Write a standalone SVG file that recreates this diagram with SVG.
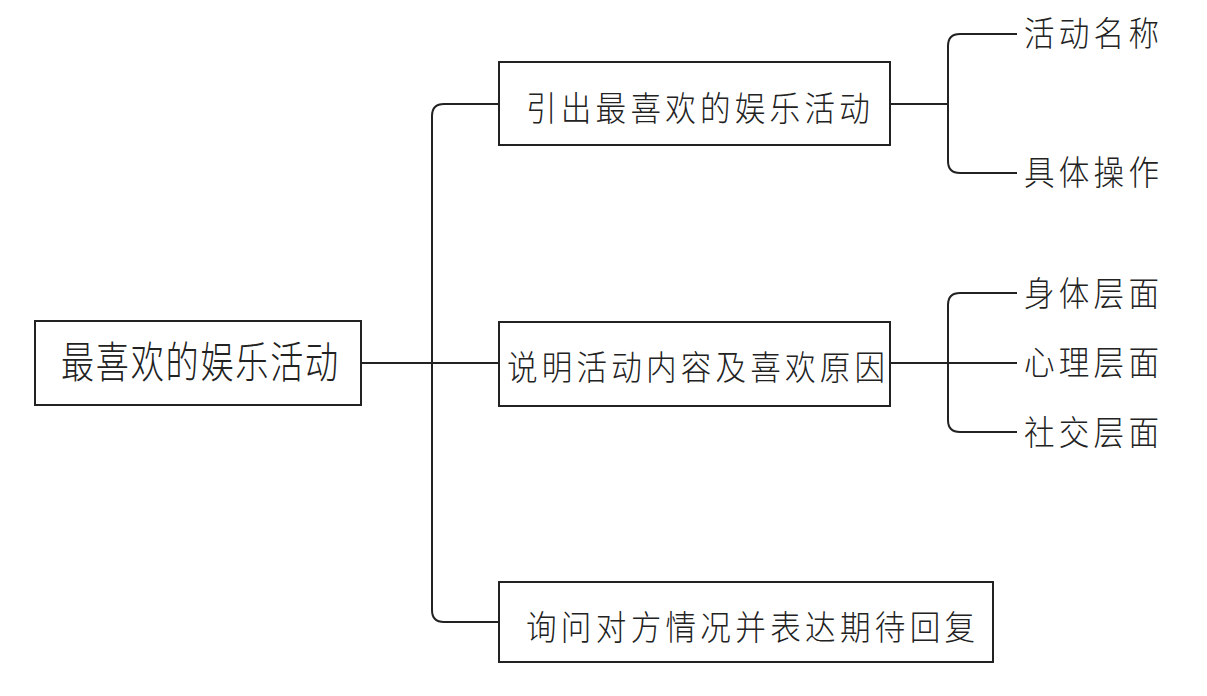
<svg xmlns="http://www.w3.org/2000/svg" width="1207" height="696" viewBox="0 0 1207 696">
<style>
.box{fill:#fff;stroke:#222;stroke-width:2}
.t{font-family:"Noto Sans CJK SC","Noto Sans CJK JP",sans-serif;font-size:34px;font-weight:300;fill:#222}
.tm{font-size:43px}
.c{fill:none;stroke:#222;stroke-width:2}
</style>
<rect width="1207" height="696" fill="#fff"/>
<g id="connectors">
<path class="c" d="M361,363 H499"/>
<path class="c" d="M499,104 H444 Q432,104 432,116 V610 Q432,622 444,622 H499"/>
<path class="c" d="M890,104 H948"/>
<path class="c" d="M1017,34 H960 Q948,34 948,46 V161 Q948,173 960,173 H1017"/>
<path class="c" d="M890,363 H1017"/>
<path class="c" d="M1017,293 H960 Q948,293 948,305 V420 Q948,432 960,432 H1017"/>
</g>
<g id="root">
<rect class="box" x="35" y="321" width="326" height="84"/>
<text class="t tm" transform="translate(61,378) scale(0.77,1)" textLength="360" lengthAdjust="spacing">最喜欢的娱乐活动</text>
</g>
<g id="n1">
<rect class="box" x="499" y="62" width="391" height="83"/>
<text class="t" transform="translate(526,121) scale(0.9,1)" textLength="382" lengthAdjust="spacing">引出最喜欢的娱乐活动</text>
</g>
<g id="n2">
<rect class="box" x="499" y="322" width="391" height="84"/>
<text class="t" transform="translate(507,380) scale(0.9,1)" textLength="420" lengthAdjust="spacing">说明活动内容及喜欢原因</text>
</g>
<g id="n3">
<rect class="box" x="499" y="582" width="494" height="80"/>
<text class="t" transform="translate(526,640) scale(0.9,1)" textLength="499" lengthAdjust="spacing">询问对方情况并表达期待回复</text>
</g>
<g id="l1"><text class="t" transform="translate(1024,46) scale(0.9,1)" textLength="150" lengthAdjust="spacing">活动名称</text></g>
<g id="l2"><text class="t" transform="translate(1024,185) scale(0.9,1)" textLength="150" lengthAdjust="spacing">具体操作</text></g>
<g id="l3"><text class="t" transform="translate(1024,306) scale(0.9,1)" textLength="150" lengthAdjust="spacing">身体层面</text></g>
<g id="l4"><text class="t" transform="translate(1024,375) scale(0.9,1)" textLength="150" lengthAdjust="spacing">心理层面</text></g>
<g id="l5"><text class="t" transform="translate(1024,445) scale(0.9,1)" textLength="150" lengthAdjust="spacing">社交层面</text></g>
</svg>
